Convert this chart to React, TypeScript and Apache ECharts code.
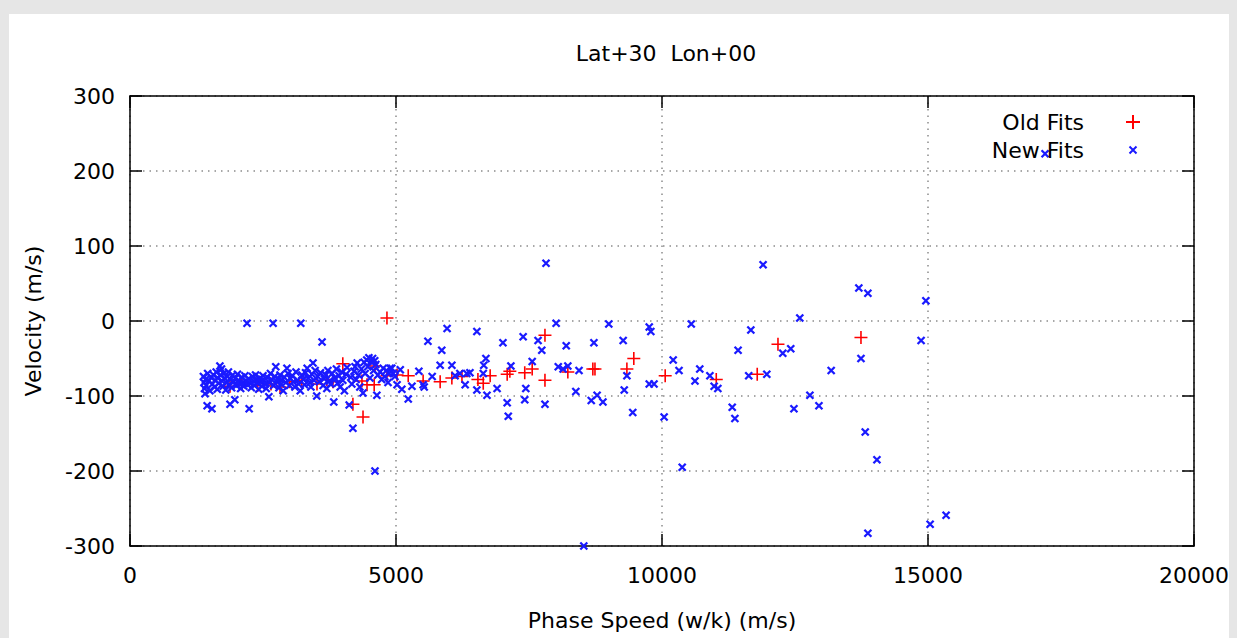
import React, { useEffect, useRef } from 'react';
import * as echarts from 'echarts';

const chartTitle = 'Lat+30  Lon+00';
const xAxisTitle = 'Phase Speed (w/k) (m/s)';
const yAxisTitle = 'Velocity (m/s)';
const oldName = 'Old Fits';
const newName = 'New Fits';

const xMin = 0;
const xMax = 20000;
const xStep = 5000;
const yMin = -300;
const yMax = 300;
const yStep = 100;

// Old Fits: [phase speed, velocity]
const oldFits: number[][] = [
  [1880, -87], [2100, -84], [2400, -86], [2650, -84], [2820, -88], [3000, -81],
  [3230, -79], [3515, -84], [3700, -78], [3815, -81], [4000, -57], [4190, -111],
  [4360, -80], [4380, -128], [4455, -85], [4590, -85], [4605, -60], [4830, 4],
  [4830, -73], [5020, -72], [5230, -73], [5510, -80], [5830, -81], [6050, -76],
  [6240, -74], [6540, -78], [6640, -83], [6770, -73], [7090, -71], [7140, -67],
  [7420, -69], [7560, -64], [7800, -19], [7800, -79], [8230, -68], [8700, -64],
  [8740, -64], [9340, -64], [9470, -50], [10060, -73], [11020, -78], [11790, -71],
  [12180, -31], [13740, -22],
];

// New Fits: dense cluster at low phase speed
const newFitsCluster: number[][] = [
  [1380, -74], [1390, -82], [1400, -90], [1410, -97], [1420, -78], [1430, -86],
  [1450, -113], [1460, -70], [1480, -80], [1500, -93], [1520, -75], [1540, -117],
  [1550, -84], [1570, -72], [1590, -88], [1600, -79], [1620, -68], [1640, -91],
  [1650, -76], [1670, -83], [1690, -60], [1700, -72],
  [1720, -64], [1730, -80], [1750, -87], [1760, -70], [1780, -76], [1800, -92],
  [1810, -82], [1830, -74], [1850, -68], [1860, -85], [1880, -111], [1890, -78],
  [1910, -89], [1930, -72], [1950, -81], [1970, -105], [1980, -76], [2000, -86],
  [2020, -71], [2040, -79], [2060, -84], [2080, -90], [2100, -75], [2120, -82],
  [2140, -87], [2160, -73], [2180, -80], [2200, -3], [2210, -85], [2230, -77],
  [2240, -117], [2260, -83], [2280, -89], [2300, -74],
  [2320, -80], [2340, -86], [2360, -72], [2380, -78], [2400, -83], [2420, -91],
  [2440, -76], [2460, -81], [2480, -87], [2500, -73], [2520, -79], [2540, -84],
  [2560, -90], [2580, -75],
  [2610, -101], [2620, -82], [2640, -70], [2660, -78], [2690, -3], [2700, -86],
  [2720, -74], [2740, -61], [2760, -81], [2780, -77], [2800, -89], [2820, -72],
  [2840, -84], [2860, -79], [2880, -93],
  [2900, -75], [2930, -82], [2950, -63], [2970, -70], [3000, -86], [3020, -77],
  [3050, -73], [3070, -81], [3100, -88], [3120, -68], [3150, -79], [3170, -84],
  [3200, -93], [3210, -3],
  [3230, -72], [3260, -78], [3280, -85], [3300, -69], [3330, -63], [3350, -76],
  [3380, -82], [3400, -88], [3420, -71], [3440, -56], [3460, -79], [3480, -66],
  [3510, -100], [3530, -74], [3560, -81], [3580, -69], [3610, -28], [3630, -86],
  [3650, -77], [3680, -72], [3700, -90], [3720, -66], [3750, -80], [3770, -84],
  [3800, -70], [3830, -108], [3850, -76], [3880, -64], [3900, -83], [3930, -73],
  [3950, -88], [3980, -68], [4000, -79], [4030, -93], [4060, -71], [4080, -62],
  [4120, -112], [4150, -75], [4170, -84], [4190, -143], [4210, -67], [4230, -61],
  [4250, -78], [4270, -56], [4300, -72], [4320, -88], [4350, -64], [4380, -96],
  [4400, -55], [4420, -70], [4450, -52], [4470, -61], [4490, -49], [4510, -76],
  [4530, -54], [4560, -50], [4580, -66], [4600, -53], [4605, -200], [4620, -58],
  [4640, -99], [4660, -72],
  [4700, -68], [4730, -78], [4760, -63], [4790, -74], [4820, -66], [4850, -82],
  [4870, -70], [4890, -63], [4920, -63], [4950, -70], [4980, -74],
];

// New Fits: scattered points at higher phase speed
const newFitsSpread: number[][] = [
  [5020, -85], [5080, -65], [5110, -91], [5230, -104], [5300, -87], [5430, -67],
  [5510, -85], [5530, -88], [5600, -27], [5680, -74], [5830, -59], [5860, -39],
  [5960, -10], [6050, -59], [6110, -73], [6200, -70], [6300, -85], [6330, -70],
  [6390, -69], [6520, -14], [6520, -92], [6640, -70], [6650, -59], [6690, -50],
  [6710, -99], [6900, -90], [7010, -29], [7090, -109], [7110, -127], [7160, -60],
  [7390, -21], [7420, -105], [7440, -90], [7560, -54], [7670, -26], [7740, -39],
  [7800, -111], [7820, 77], [8010, -3], [8050, -61], [8140, -64], [8200, -33],
  [8230, -60], [8380, -94], [8440, -66], [8530, -300], [8670, -106], [8720, -29],
  [8780, -99], [8890, -108], [9000, -4], [9270, -26], [9290, -92], [9340, -73],
  [9450, -122], [9760, -8], [9790, -14], [9760, -84], [9850, -84], [10040, -128],
  [10210, -52], [10320, -66], [10380, -195], [10550, -4], [10620, -80], [10710, -64],
  [10900, -73], [10980, -87], [11050, -90], [11320, -115], [11370, -130], [11430, -39],
  [11630, -73], [11670, -12], [11900, 75], [11970, -71], [12270, -43], [12420, -37],
  [12480, -117], [12590, 4], [12780, -99], [12950, -113], [13180, -66], [13700, 44],
  [13740, -50], [13820, -148], [13870, 37], [13870, -283], [14040, -185], [14870, -26],
  [14960, 27], [15040, -271], [15340, -259], [17200, 223],
];

const newFits: number[][] = [...newFitsCluster, ...newFitsSpread];

const FONT = 'DejaVu Sans';
const plusPath = 'path://M6,0L6,12M0,6L12,6';
const crossPath = 'path://M0,0M3.5,3.5L10.5,10.5M3.5,10.5L10.5,3.5M14,14';

export default function App() {
  const ref = useRef<HTMLDivElement>(null);

  useEffect(() => {
    if (!ref.current) return;
    const chart = echarts.init(ref.current, null, { renderer: 'svg' });

    const axisLine = { show: true, onZero: false, lineStyle: { color: '#000', width: 1.5 } };
    const axisTick = { show: true, inside: true, length: 12, lineStyle: { color: '#000', width: 1.5 } };
    const splitLine = { show: true, lineStyle: { color: '#8c8c8c', width: 1.5, type: [1.5, 5] } };
    const labelStyle = { color: '#000', fontSize: 22, fontFamily: FONT };

    chart.setOption({
      animation: false,
      title: {
        text: chartTitle,
        left: 661,
        top: 37,
        textAlign: 'center',
        textStyle: { color: '#000', fontSize: 22, fontWeight: 'normal', fontFamily: FONT },
      },
      legend: {
        orient: 'vertical',
        right: 91,
        top: 106,
        align: 'right',
        itemWidth: 14,
        itemHeight: 14,
        itemGap: 6,
        selectedMode: false,
        data: [oldName, newName],
        textStyle: { color: '#000', fontSize: 22, fontFamily: FONT, padding: [0, 37, 0, 0] },
      },
      grid: { left: 130, top: 96, width: 1064, height: 450, show: false, containLabel: false },
      xAxis: [
        {
          type: 'value', min: xMin, max: xMax, interval: xStep, position: 'bottom',
          axisLine, axisTick,
          axisLabel: { ...labelStyle, margin: 18, formatter: (v: number) => String(v) },
          splitLine,
          name: xAxisTitle, nameLocation: 'middle', nameGap: 63,
          nameTextStyle: labelStyle,
        },
        {
          type: 'value', min: xMin, max: xMax, interval: xStep, position: 'top',
          axisLine, axisTick, axisLabel: { show: false }, splitLine: { show: false },
        },
      ],
      yAxis: [
        {
          type: 'value', min: yMin, max: yMax, interval: yStep, position: 'left',
          axisLine, axisTick,
          axisLabel: { ...labelStyle, margin: 15, formatter: (v: number) => String(v) },
          splitLine,
          name: yAxisTitle, nameLocation: 'middle', nameGap: 86,
          nameTextStyle: labelStyle,
        },
        {
          type: 'value', min: yMin, max: yMax, interval: yStep, position: 'right',
          axisLine, axisTick, axisLabel: { show: false }, splitLine: { show: false },
        },
      ],
      series: [
        {
          name: oldName,
          type: 'scatter',
          xAxisIndex: 0,
          yAxisIndex: 0,
          data: oldFits,
          symbol: plusPath,
          symbolSize: 13,
          silent: true,
          itemStyle: { color: '#ff0000', borderColor: '#ff0000', borderWidth: 1.6, opacity: 1 },
        },
        {
          name: newName,
          type: 'scatter',
          xAxisIndex: 0,
          yAxisIndex: 0,
          data: newFits,
          symbol: crossPath,
          symbolSize: 14,
          silent: true,
          itemStyle: {
            color: '#1a1aff', borderColor: '#1a1aff', borderWidth: 2.3, opacity: 1,
          },
        },
      ],
    });

    return () => chart.dispose();
  }, []);

  return (
    <div style={{ position: 'fixed', left: 0, top: 0, width: 1237, height: 638, background: '#e6e6e6' }}>
      <div style={{ position: 'absolute', left: 9, top: 14, width: 1220, height: 624, background: '#ffffff' }} />
      <div ref={ref} style={{ position: 'absolute', left: 0, top: 0, width: 1237, height: 638 }} />
    </div>
  );
}
